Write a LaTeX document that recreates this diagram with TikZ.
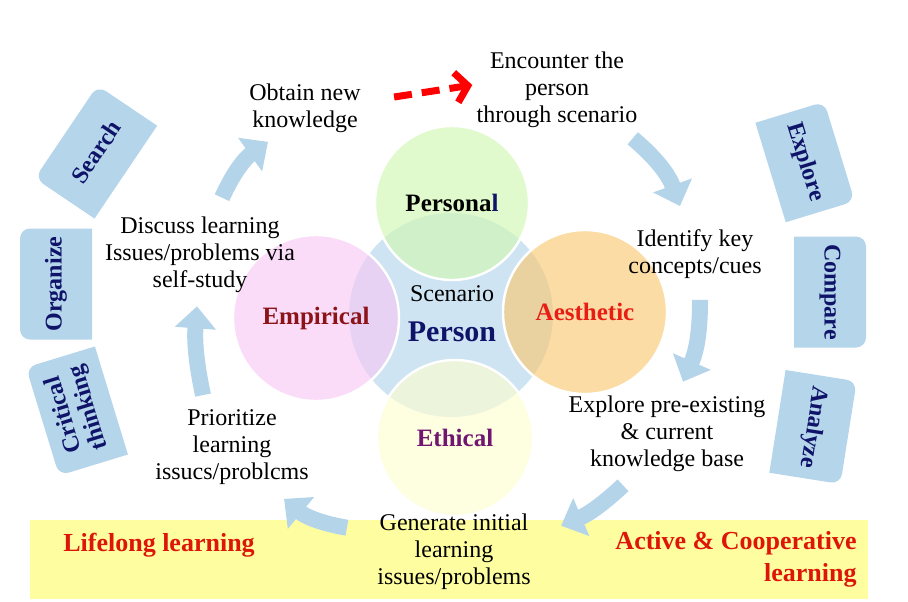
\documentclass[tikz,border=0pt]{standalone}
\usepackage{fontspec}
\setmainfont{Liberation Serif}
\usetikzlibrary{arrows.meta, positioning}
\definecolor{boxblue}{RGB}{181,213,235}
\definecolor{flowblue}{RGB}{180,212,234}
\definecolor{coreblue}{RGB}{206,228,243}
\definecolor{navytext}{RGB}{15,20,105}
\definecolor{bandyellow}{RGB}{254,254,160}
\definecolor{bandred}{RGB}{222,22,10}
\definecolor{empred}{RGB}{140,20,25}
\definecolor{aesred}{RGB}{232,30,20}
\definecolor{ethpurple}{RGB}{112,22,112}
\definecolor{persgreen}{RGB}{209,247,178}
\definecolor{emppink}{RGB}{247,201,244}
\definecolor{aesorange}{RGB}{250,201,117}
\definecolor{ethyellow}{RGB}{253,253,209}
\tikzset{
  stepT/.style={align=center, inner sep=0pt,
                font=\fontsize{12}{13.5}\selectfont},
  ring/.style={circle, draw=white, line width=1.2pt, inner sep=0pt,
               fill opacity=0.65, text opacity=1,
               font=\bfseries\fontsize{12.5}{14}\selectfont},
  sideT/.style={align=center, inner sep=0pt, text=navytext,
                font=\bfseries\fontsize{12}{12.5}\selectfont},
  bandT/.style={text=bandred, inner sep=0pt,
                font=\bfseries\fontsize{13}{16}\selectfont},
  flow/.style={draw=flowblue, line width=8pt,
               -{Triangle[width=20pt,length=11pt]}},
  dashflow/.style={draw=red, line width=3.5pt, dash pattern=on 9pt off 5pt,
                   -{Straight Barb[length=6pt,width=15pt]}},
}
\begin{document}
\begin{tikzpicture}[x=0.5pt, y=0.5pt]
    \useasboundingbox (0,0) rectangle (908,-601);
    % yellow band
    \fill[bandyellow] (30,-520) rectangle (868,-599);
    \node[bandT] (lifelong) at (159,-545) {Lifelong learning};
    \node[bandT, align=right, anchor=east] (active) at (857,-559)
      {Active \& Cooperative\\learning};
    % centre
    \node[circle, fill=coreblue, minimum size=102pt] (core) at (451,-315) {};
    \node[ring, fill=persgreen, minimum size=77pt] (personal) at (452,-203)
      {Persona\textcolor{navytext}{l}};
    \node[ring, fill=emppink, minimum size=83pt, text=empred] (empirical) at (316,-318) {Empirical};
    \node[ring, fill=aesorange, minimum size=82pt, text=aesred] (aesthetic) at (585,-312) {Aesthetic};
    \node[ring, fill=ethyellow, minimum size=78pt, text=ethpurple] (ethical) at (455,-438) {Ethical};
    \node[stepT] (scenario) at (452,-294) {Scenario};
    \node[stepT, text=navytext, font=\bfseries\fontsize{15}{17}\selectfont] (person) at (452,-332) {Person};
    % side boxes
    \foreach \nm/\bx/\by/\ang/\len/\txt in {boxSearch/96/-152/56/112/Search,
        boxOrganize/56/-284/90/111/Organize,
        boxCritical/77/-411/107/113/{Critical\\thinking},
        boxExplore/805/-162/-73/104/Explore,
        boxCompare/830/-292/-90/111/Compare,
        boxAnalyze/813/-427/-99/104/Analyze}{
      \begin{scope}[shift={(\bx,\by)}, rotate=\ang]
        \fill[boxblue] (-\len/2,-36) -- (\len/2,-36) -- (\len/2,26)
          arc[start angle=0, end angle=90, radius=10] -- (-\len/2+10,36)
          arc[start angle=90, end angle=180, radius=10] -- cycle;
      \end{scope}
      \node[sideT, rotate=\ang] (\nm) at (\bx,\by) {\txt};
    }
    % steps of the cycle
    \node[stepT] (obtain) at (305,-108) {Obtain new\\knowledge};
    \node[stepT] (encounter) at (557,-90) {Encounter the\\person\\through scenario};
    \node[stepT] (identify) at (695,-254) {Identify key\\concepts/cues};
    \node[stepT] (preexist) at (667,-434) {Explore pre-existing\\\& current\\knowledge base};
    \node[stepT] (generate) at (454,-552) {Generate initial\\learning\\issues/problems};
    \node[stepT] (prioritize) at (232,-447) {Prioritize\\learning\\issucs/problcms};
    \node[stepT] (discuss) at (200,-255) {Discuss learning\\Issues/problems via\\self-study};
    % arrows
    \draw[flow] ([xshift=11pt,yshift=9.5pt]discuss.north) to[bend left=15]
      ([xshift=-18.5pt,yshift=-4.5pt]obtain.south);
    \draw[flow] ([xshift=-2.5pt,yshift=-5pt]encounter.south east) to[bend left=15]
      ([xshift=-7.5pt,yshift=11.5pt]identify.north);
    \draw[flow] ([xshift=2.5pt,yshift=-10.5pt]identify.south) to[bend left=12]
      ([xshift=8pt,yshift=7pt]preexist.north);
    \draw[flow] ([xshift=-22pt,yshift=-6.5pt]preexist.south) to[bend left=10]
      ([xshift=15pt,yshift=-6pt]generate.north east);
    \draw[flow] ([xshift=-15pt,yshift=-7pt]generate.north west) to[bend left=15]
      ([xshift=-12.5pt,yshift=-7pt]prioritize.south east);
    \draw[flow] ([xshift=-14.5pt,yshift=7pt]prioritize.north) to[bend left=8]
      ([xshift=-1.5pt,yshift=-6.5pt]discuss.south);
    \draw[dashflow] ([xshift=16.5pt,yshift=5.5pt]obtain.east) --
      ([xshift=-2pt,yshift=2.5pt]encounter.west);
\end{tikzpicture}
\end{document}
